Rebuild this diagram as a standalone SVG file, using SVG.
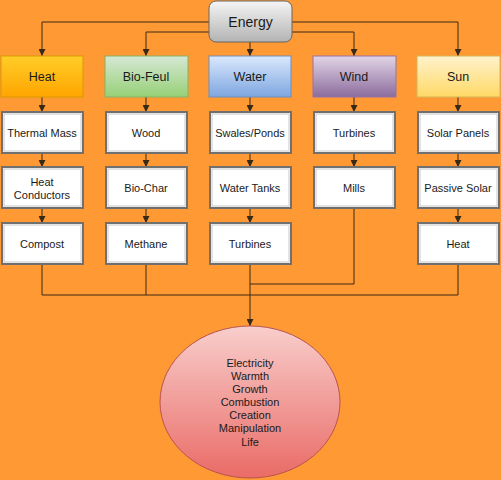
<svg xmlns="http://www.w3.org/2000/svg" width="501" height="480" viewBox="0 0 501 480">
<defs>
<linearGradient id="gE" x1="0" y1="0" x2="0" y2="1"><stop offset="0" stop-color="#f5f5f5"/><stop offset="1" stop-color="#b3b3b3"/></linearGradient>
<linearGradient id="gH" x1="0" y1="0" x2="0" y2="1"><stop offset="0" stop-color="#ffcd28"/><stop offset="1" stop-color="#ffa500"/></linearGradient>
<linearGradient id="gB" x1="0" y1="0" x2="0" y2="1"><stop offset="0" stop-color="#d5e8d4"/><stop offset="1" stop-color="#97d077"/></linearGradient>
<linearGradient id="gW" x1="0" y1="0" x2="0" y2="1"><stop offset="0" stop-color="#dae8fc"/><stop offset="1" stop-color="#7ea6e0"/></linearGradient>
<linearGradient id="gN" x1="0" y1="0" x2="0" y2="1"><stop offset="0" stop-color="#e1d5e7"/><stop offset="1" stop-color="#8c6c9c"/></linearGradient>
<linearGradient id="gS" x1="0" y1="0" x2="0" y2="1"><stop offset="0" stop-color="#fff2cc"/><stop offset="1" stop-color="#ffd966"/></linearGradient>
<linearGradient id="gO" x1="0" y1="0" x2="0" y2="1"><stop offset="0" stop-color="#f8cecc"/><stop offset="1" stop-color="#ea6b66"/></linearGradient>
<marker id="arr" viewBox="0 0 10 10" refX="10" refY="5" markerWidth="7" markerHeight="7" markerUnits="userSpaceOnUse" orient="auto"><path d="M0,0 L10,5 L0,10 Z" fill="#3a2a15"/></marker>
</defs>
<style>
text{font-family:"Liberation Sans",Arial,sans-serif;fill:#1a1a1a;text-anchor:middle;dominant-baseline:central}
.cat{font-size:12.5px}
.box rect.o{fill:#ffffff;stroke:#707070;stroke-width:2}
.box rect.i{fill:none;stroke:#c8c8c8;stroke-width:1}
.box text{font-size:11px}
.con path{fill:none;stroke:#3a2a15;stroke-width:1}
.el text{font-size:11px}
</style>
<rect x="0" y="0" width="501" height="480" fill="#ff9933"/>
<g class="con">
<path d="M209,22 H42 V56" marker-end="url(#arr)"/>
<path d="M209,32 H146 V56" marker-end="url(#arr)"/>
<path d="M250,42 V56" marker-end="url(#arr)"/>
<path d="M292,32 H354 V56" marker-end="url(#arr)"/>
<path d="M292,22 H458 V56" marker-end="url(#arr)"/>
<path d="M42,97 V112" marker-end="url(#arr)"/>
<path d="M146,97 V112" marker-end="url(#arr)"/>
<path d="M250,97 V112" marker-end="url(#arr)"/>
<path d="M354,97 V112" marker-end="url(#arr)"/>
<path d="M458,97 V112" marker-end="url(#arr)"/>
<path d="M42,153 V167" marker-end="url(#arr)"/>
<path d="M146,153 V167" marker-end="url(#arr)"/>
<path d="M250,153 V167" marker-end="url(#arr)"/>
<path d="M354,153 V167" marker-end="url(#arr)"/>
<path d="M458,153 V167" marker-end="url(#arr)"/>
<path d="M42,208 V223" marker-end="url(#arr)"/>
<path d="M146,208 V223" marker-end="url(#arr)"/>
<path d="M250,208 V223" marker-end="url(#arr)"/>
<path d="M458,208 V223" marker-end="url(#arr)"/>
<path d="M42,264 V295 H250"/>
<path d="M146,264 V295"/>
<path d="M354,208 V284 H250"/>
<path d="M458,264 V295 H250"/>
<path d="M250,264 V326" marker-end="url(#arr)"/>
</g>
<g id="energy"><rect x="209" y="1" width="83" height="41" rx="7" fill="url(#gE)" stroke="#666666"/><text x="250.5" y="22" style="font-size:14px">Energy</text></g>
<g id="heat"><rect x="1" y="56" width="82" height="41" fill="url(#gH)" stroke="#d79b00"/><text class="cat" x="42" y="77">Heat</text></g>
<g id="biofeul"><rect x="105" y="56" width="83" height="41" fill="url(#gB)" stroke="#82b366"/><text class="cat" x="146" y="77">Bio-Feul</text></g>
<g id="water"><rect x="209" y="56" width="82" height="41" fill="url(#gW)" stroke="#6c8ebf"/><text class="cat" x="250" y="77">Water</text></g>
<g id="wind"><rect x="313" y="56" width="83" height="41" fill="url(#gN)" stroke="#9673a6"/><text class="cat" x="354" y="77">Wind</text></g>
<g id="sun"><rect x="417" y="56" width="83" height="41" fill="url(#gS)" stroke="#d6b656"/><text class="cat" x="458" y="77">Sun</text></g>
<g id="thermal-mass" class="box"><rect class="o" x="2" y="112" width="81" height="41"/><rect class="i" x="4" y="114" width="77" height="37"/><text x="42" y="133">Thermal Mass</text></g>
<g id="wood" class="box"><rect class="o" x="106" y="112" width="81" height="41"/><rect class="i" x="108" y="114" width="77" height="37"/><text x="146" y="133">Wood</text></g>
<g id="swales" class="box"><rect class="o" x="210" y="112" width="81" height="41"/><rect class="i" x="212" y="114" width="77" height="37"/><text x="250" y="133">Swales/Ponds</text></g>
<g id="turbines-wind" class="box"><rect class="o" x="314" y="112" width="81" height="41"/><rect class="i" x="316" y="114" width="77" height="37"/><text x="354" y="133">Turbines</text></g>
<g id="solar-panels" class="box"><rect class="o" x="418" y="112" width="81" height="41"/><rect class="i" x="420" y="114" width="77" height="37"/><text x="458" y="133">Solar Panels</text></g>
<g id="heat-conductors" class="box"><rect class="o" x="2" y="167" width="81" height="41"/><rect class="i" x="4" y="169" width="77" height="37"/><text x="42" y="182">Heat</text><text x="42" y="195">Conductors</text></g>
<g id="bio-char" class="box"><rect class="o" x="106" y="167" width="81" height="41"/><rect class="i" x="108" y="169" width="77" height="37"/><text x="146" y="188">Bio-Char</text></g>
<g id="water-tanks" class="box"><rect class="o" x="210" y="167" width="81" height="41"/><rect class="i" x="212" y="169" width="77" height="37"/><text x="250" y="188">Water Tanks</text></g>
<g id="mills" class="box"><rect class="o" x="314" y="167" width="81" height="41"/><rect class="i" x="316" y="169" width="77" height="37"/><text x="354" y="188">Mills</text></g>
<g id="passive-solar" class="box"><rect class="o" x="418" y="167" width="81" height="41"/><rect class="i" x="420" y="169" width="77" height="37"/><text x="458" y="188">Passive Solar</text></g>
<g id="compost" class="box"><rect class="o" x="2" y="223" width="81" height="41"/><rect class="i" x="4" y="225" width="77" height="37"/><text x="42" y="244">Compost</text></g>
<g id="methane" class="box"><rect class="o" x="106" y="223" width="81" height="41"/><rect class="i" x="108" y="225" width="77" height="37"/><text x="146" y="244">Methane</text></g>
<g id="turbines-water" class="box"><rect class="o" x="210" y="223" width="81" height="41"/><rect class="i" x="212" y="225" width="77" height="37"/><text x="250" y="244">Turbines</text></g>
<g id="heat-sun" class="box"><rect class="o" x="418" y="223" width="81" height="41"/><rect class="i" x="420" y="225" width="77" height="37"/><text x="458" y="244">Heat</text></g>
<g id="outcomes" class="el"><ellipse cx="250" cy="402" rx="90" ry="76" fill="url(#gO)" stroke="#b85450"/>
<text x="250" y="363">Electricity</text><text x="250" y="376">Warmth</text><text x="250" y="389">Growth</text><text x="250" y="402">Combustion</text><text x="250" y="415">Creation</text><text x="250" y="428">Manipulation</text><text x="250" y="442">Life</text></g>
</svg>
